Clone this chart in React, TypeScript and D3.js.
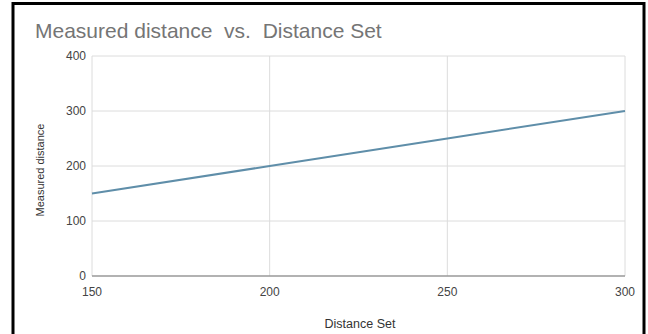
import React from "react";
import * as d3 from "d3";

const distanceSet: number[] = [150, 200, 250, 300];
const measured: number[] = [150, 200, 250, 300];
const xTicks: number[] = [150, 200, 250, 300];
const yTicks: number[] = [0, 100, 200, 300, 400];

const W = 648;
const H = 334;
const M = { left: 92, right: 625, top: 56, bottom: 276 };

export default function App() {
  const x = d3.scaleLinear().domain([150, 300]).range([M.left, M.right]);
  const y = d3.scaleLinear().domain([0, 400]).range([M.bottom, M.top]);
  const line = d3
    .line<number>()
    .x((_, i) => x(distanceSet[i]))
    .y((d) => y(d));
  const font = "Arial, 'Liberation Sans', sans-serif";
  return (
    <svg
      width={W}
      height={H}
      style={{ position: "absolute", left: 0, top: 0, display: "block" }}
      fontFamily={font}
    >
      <rect x={0} y={0} width={W} height={H} fill="#fff" />
      <rect x={13} y={3.5} width={631} height={H + 10} fill="#fff" stroke="#000" strokeWidth={3} />
      <text x={35} y={38} fontSize={21} fill="#757575">
        Measured distance{"\u00a0\u00a0"}vs.{"\u00a0\u00a0"}Distance Set
      </text>
      {yTicks.map((t) => (
        <g key={"y" + t}>
          {t !== 0 && (
            <line x1={M.left} x2={M.right} y1={y(t)} y2={y(t)} stroke="#dcdcdc" strokeWidth={1} />
          )}
          <text x={86} y={y(t) + 4} fontSize={12} fill="#444" textAnchor="end">
            {t}
          </text>
        </g>
      ))}
      {xTicks.map((t) => (
        <g key={"x" + t}>
          <line x1={x(t)} x2={x(t)} y1={M.top} y2={M.bottom} stroke="#dcdcdc" strokeWidth={1} />
          <text x={x(t)} y={296} fontSize={12} fill="#444" textAnchor="middle">
            {t}
          </text>
        </g>
      ))}
      <line x1={M.left} x2={M.right} y1={M.bottom} y2={M.bottom} stroke="#999" strokeWidth={1.5} />
      <path d={line(measured) || ""} fill="none" stroke="#5f8ea9" strokeWidth={2} />
      <text x={360} y={328} fontSize={12.5} fill="#333" textAnchor="middle">
        Distance Set
      </text>
      <text
        transform={`translate(44,170) rotate(-90)`}
        fontSize={11}
        fill="#333"
        textAnchor="middle"
      >
        Measured distance
      </text>
    </svg>
  );
}
